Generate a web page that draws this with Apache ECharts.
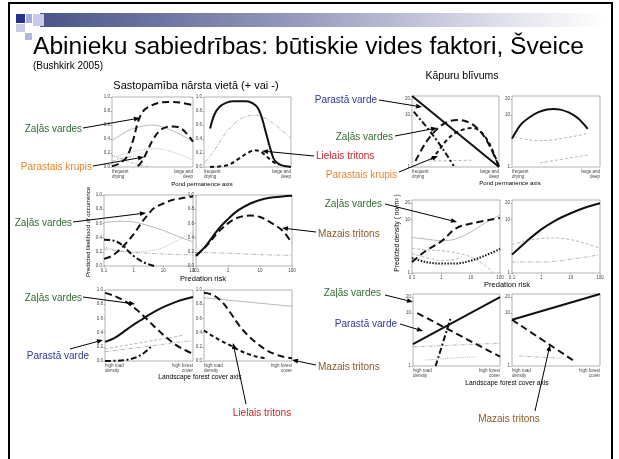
<!DOCTYPE html>
<html><head><meta charset="utf-8">
<script src="https://cdn.jsdelivr.net/npm/echarts@6/dist/echarts.min.js"></script>
<style>html,body{margin:0;padding:0;background:#fff}#c{width:619px;height:459px}</style>
</head><body><div id="c"></div>
<script>
const FONT = '"Liberation Sans", Arial, sans-serif';

// ---------- tick labels ----------
const pondLabels = ['frequent\ndrying', 'large and\ndeep'];
const roadLabels = ['high road\ndensity', 'high forest\ncover'];
const riskTicks = [0.1, 1, 10, 100];
const likeTicks = [0, 0.2, 0.4, 0.6, 0.8, 1.0];
const densTicks = [1, 10, 20];

// ---------- left column: predicted likelihood of occurrence ----------
// row 1, pond permanence
const l1aZalas = [[0,0.01],[0.09,0.05],[0.18,0.14],[0.26,0.38],[0.32,0.64],[0.38,0.79],[0.47,0.87],[0.59,0.92],[0.72,0.93],[0.84,0.92],[0.98,0.89]];
const l1aKrupis = [[0.32,0.01],[0.38,0.1],[0.44,0.24],[0.51,0.4],[0.59,0.52],[0.67,0.57],[0.75,0.58],[0.84,0.56],[0.92,0.48],[1,0.36]];
const l1aThinSolid = [[0,0.38],[0.1,0.45],[0.2,0.52],[0.3,0.56],[0.4,0.59],[0.5,0.6],[0.6,0.58],[0.7,0.54],[0.8,0.49],[0.9,0.43],[1,0.36]];
const l1aThinDot = [[0,0.14],[0.2,0.2],[0.4,0.25],[0.55,0.26],[0.7,0.23],[0.85,0.17],[1,0.1]];
const l1aThinDash = [[0,0.17],[0.15,0.1],[0.3,0.04],[0.45,0.0]];
const l1aThinDashDot = [[0,0.08],[0.15,0.13],[0.3,0.16]];

const l1bSolid = [[0.07,0.55],[0.12,0.75],[0.18,0.86],[0.26,0.92],[0.34,0.94],[0.49,0.94],[0.56,0.91],[0.61,0.86],[0.65,0.76],[0.68,0.64],[0.71,0.5],[0.74,0.36],[0.77,0.23],[0.8,0.12],[0.84,0.06],[0.88,0.03],[0.94,0.01],[1,0.0]];
const l1bThinDashDot = [[0.01,0.07],[0.1,0.2],[0.2,0.4],[0.3,0.56],[0.4,0.67],[0.5,0.73],[0.6,0.74],[0.7,0.7],[0.8,0.62],[0.9,0.52],[1,0.41]];
const l1bLielais = [[0.07,0.0],[0.2,0.01],[0.3,0.04],[0.4,0.12],[0.5,0.2],[0.58,0.24],[0.65,0.22],[0.72,0.15],[0.8,0.07],[0.86,0.03]];

// row 2, predation risk
const l2aZalas = [[0.1,0.1],[0.2,0.15],[0.5,0.3],[1,0.45],[2,0.63],[3,0.72],[5,0.82],[10,0.88],[20,0.93],[50,0.96],[100,0.98]];
const l2aThinSolid = [[0.1,0.61],[0.3,0.63],[1,0.62],[3,0.57],[10,0.5],[30,0.42],[100,0.34]];
const l2aThinDot = [[0.1,0.27],[0.3,0.22],[1,0.2],[3,0.21],[10,0.26],[30,0.36],[100,0.48]];
const l2aThinDash = [[0.1,0.24],[0.3,0.21],[1,0.19],[3,0.18],[10,0.17],[30,0.16],[100,0.16]];
const l2aDashDot = [[0.1,0.37],[0.2,0.36],[0.4,0.3],[0.7,0.2],[1,0.14],[2,0.06],[4,0.01],[5,0.0]];

const l2bSolid = [[0.1,0.14],[0.2,0.28],[0.5,0.52],[1,0.66],[2,0.78],[5,0.88],[10,0.93],[20,0.96],[50,0.98],[100,0.99]];
const l2bMazais = [[0.1,0.15],[0.2,0.27],[0.5,0.48],[1,0.6],[2,0.68],[5,0.71],[10,0.69],[20,0.62],[50,0.5],[100,0.32]];
const l2bThinDashDot = [[0.1,0.19],[1,0.18],[10,0.16],[100,0.15]];

// row 3, landscape forest cover
const l3aParasta = [[0,0.27],[0.1,0.32],[0.2,0.4],[0.3,0.49],[0.4,0.57],[0.5,0.65],[0.6,0.72],[0.7,0.78],[0.8,0.83],[0.9,0.87],[1,0.9]];
const l3aZalas = [[0,0.96],[0.1,0.92],[0.2,0.86],[0.3,0.78],[0.4,0.68],[0.5,0.56],[0.6,0.44],[0.7,0.33],[0.8,0.23],[0.9,0.16],[1,0.1]];
const l3aDashDot = [[0,0.0],[0.2,0.01],[0.35,0.05],[0.45,0.12],[0.52,0.2]];
const l3aThinDash = [[0,0.17],[0.88,0.36]];
const l3aThinDashDot = [[0,0.13],[1,0.29]];

const l3bThinSolid = [[0,0.89],[1,0.77]];
const l3bMazais = [[0,0.96],[0.1,0.93],[0.2,0.84],[0.3,0.68],[0.4,0.5],[0.5,0.36],[0.6,0.25],[0.7,0.16],[0.8,0.1],[0.9,0.06],[1,0.04]];
const l3bLielais = [[0,0.43],[0.1,0.35],[0.2,0.28],[0.3,0.22],[0.4,0.15],[0.5,0.1],[0.6,0.06],[0.7,0.04]];

// ---------- right column: predicted density (no/m2) ----------
const r1aParasta = [[0,23],[1,1]];
const r1aZalas = [[0.04,1.3],[0.15,2.8],[0.25,4.6],[0.35,6.5],[0.45,7.7],[0.52,8],[0.6,7.7],[0.7,6.5],[0.8,4.5],[0.9,2.4],[1,1]];
const r1aKrupis = [[0.22,1.4],[0.3,2.0],[0.4,3.3],[0.5,4.5],[0.6,5.3],[0.68,5.6],[0.75,5.3],[0.82,4.2],[0.9,2.6],[1,1]];
const r1aDashDot = [[0.02,11.5],[0.1,8],[0.2,5],[0.3,3],[0.4,1.7],[0.48,1.05]];
const r1aThinDash = [[0.19,1.3],[0.7,1.35]];

const r1bSolid = [[0,3.5],[0.1,6.5],[0.2,9],[0.3,11.3],[0.4,12.7],[0.47,13],[0.55,12.6],[0.65,11],[0.75,8.6],[0.86,5.4]];
const r1bThinDash = [[0.03,3.8],[0.15,3.4],[0.3,3.2],[0.45,3.3],[0.6,3.6],[0.75,4.0],[0.86,4.4]];
const r1bThinDash2 = [[0.32,1.2],[0.86,1.7]];

const r2aZalas = [[0.1,1.6],[0.3,2.6],[1,3.9],[3.3,6.9],[12,8.5],[100,10.6]];
const r2aThinSolid = [[0.1,4.6],[0.3,4.3],[1,4.0],[3,4.3],[10,5.8],[30,8.5],[100,12]];
const r2aThinDash = [[0.1,2.9],[0.3,2.7],[1,2.6],[3,2.4],[10,2.0],[30,1.4],[60,1.0]];
const r2aMazais = [[0.1,1.9],[0.3,1.6],[1,1.5],[3,1.5],[10,1.7],[30,2.1],[100,2.8]];
const r2aThinDash2 = [[0.1,2.3],[0.5,1.8],[1,1.7],[3,1.8],[5,2.0]];

const r2bSolid = [[0.1,2.2],[0.3,3.8],[1,6.5],[3,9.5],[10,13],[30,16.5],[100,20]];
const r2bThinDash = [[0.1,3.4],[0.3,4.0],[1,4.4],[3,4.5],[10,4.2],[30,3.6],[100,2.9]];
const r2bThinDashDot = [[0.1,1.6],[1,1.6],[10,1.8],[100,2.2]];

const r3aParasta = [[0,2.6],[1,20]];
const r3aZalas = [[0.05,10],[1,1.5]];
const r3aDashDot = [[0.26,1.0],[0.43,7.8]];
const r3aThinDash = [[0,2.3],[1,2.7]];
const r3aThinDot = [[0.14,1.3],[0.72,1.5]];

const r3bSolid = [[0,7.5],[1,23]];
const r3bMazais = [[0,7.5],[0.72,1.2]];
const r3bThinDashDot = [[0.08,1.55],[0.55,1.4]];

// ---------- layout ----------
const grids = [
  {left:112, top:97,  width:81, height:70},  // 0 L1a
  {left:204, top:97,  width:87, height:70},  // 1 L1b
  {left:104, top:195, width:89, height:71},  // 2 L2a
  {left:196, top:195, width:96, height:71},  // 3 L2b
  {left:105, top:290, width:88, height:71},  // 4 L3a
  {left:204, top:290, width:88, height:71},  // 5 L3b
  {left:412, top:96,  width:87, height:71},  // 6 R1a
  {left:512, top:96,  width:88, height:71},  // 7 R1b
  {left:412, top:200, width:88, height:73},  // 8 R2a
  {left:512, top:200, width:88, height:73},  // 9 R2b
  {left:413, top:294, width:87, height:72},  // 10 R3a
  {left:512, top:294, width:88, height:72}   // 11 R3b
].map(g => Object.assign(g, {show:true, borderColor:'#808080', borderWidth:0.6, backgroundColor:'rgba(0,0,0,0)'}));

const tickStyle = {show:true, length:1.5, lineStyle:{color:'#666', width:0.5}};
const lblBase = {fontSize:4.5, color:'#444', fontFamily:FONT};

function xCat(i, labels) {
  return {gridIndex:i, type:'value', min:0, max:1,
    axisLine:{show:false}, splitLine:{show:false}, axisTick:{show:false},
    axisLabel:Object.assign({}, lblBase, {customValues:[0,1], lineHeight:5, margin:2,
      alignMinLabel:'left', alignMaxLabel:'right',
      formatter: v => v < 0.5 ? labels[0] : labels[1]})};
}
function xRisk(i) {
  return {gridIndex:i, type:'log', logBase:10, min:0.1, max:100,
    axisLine:{show:false}, splitLine:{show:false}, axisTick:tickStyle,
    axisLabel:Object.assign({}, lblBase, {margin:2, customValues:riskTicks,
      formatter: v => v < 0.5 ? '0.1' : String(Math.round(v))})};
}
function yLike(i) {
  return {gridIndex:i, type:'value', min:0, max:1, interval:0.2,
    axisLine:{show:false}, splitLine:{show:false}, axisTick:tickStyle,
    axisLabel:Object.assign({}, lblBase, {margin:2, formatter: v => v.toFixed(1)})};
}
function yDens(i) {
  return {gridIndex:i, type:'log', logBase:10, min:1, max:23,
    axisLine:{show:false}, splitLine:{show:false},
    axisTick:Object.assign({customValues:densTicks}, tickStyle),
    axisLabel:Object.assign({}, lblBase, {margin:2, customValues:densTicks, formatter: v => String(Math.round(v))})};
}

const xAxes = [xCat(0,pondLabels), xCat(1,pondLabels), xRisk(2), xRisk(3), xCat(4,roadLabels), xCat(5,roadLabels),
               xCat(6,pondLabels), xCat(7,pondLabels), xRisk(8), xRisk(9), xCat(10,roadLabels), xCat(11,roadLabels)];
const yAxes = [0,1,2,3,4,5].map(yLike).concat([6,7,8,9,10,11].map(yDens));

// ---------- line styles ----------
const ST = {
  long:    {c:'#111', w:2,   t:[7,4]},
  short:   {c:'#111', w:2,   t:[4,3]},
  solid:   {c:'#111', w:2,   t:'solid'},
  dashdot: {c:'#111', w:2,   t:[6,2.5,2,2.5]},
  dot:     {c:'#111', w:2,   t:[1.5,1.5]},
  tSolid:  {c:'#9a9a9a', w:0.7, t:'solid'},
  tDash:   {c:'#9a9a9a', w:0.7, t:[3,2]},
  tDot:    {c:'#9a9a9a', w:0.7, t:[1,1.2]},
  tDashDot:{c:'#9a9a9a', w:0.7, t:[4,1.5,1,1.5]}
};
function S(g, data, st) {
  const s = ST[st];
  return {type:'line', xAxisIndex:g, yAxisIndex:g, data, smooth:0.35, symbol:'none', silent:true,
    lineStyle:{color:s.c, width:s.w, type:s.t, cap:'butt'}, z: s.w > 1 ? 3 : 2};
}

const series = [
  S(0,l1aThinSolid,'tSolid'), S(0,l1aThinDot,'tDot'), S(0,l1aThinDash,'tDash'), S(0,l1aThinDashDot,'tDashDot'),
  S(0,l1aZalas,'long'), S(0,l1aKrupis,'long'),
  S(1,l1bThinDashDot,'tDashDot'), S(1,l1bSolid,'solid'), S(1,l1bLielais,'short'),
  S(2,l2aThinSolid,'tSolid'), S(2,l2aThinDot,'tDot'), S(2,l2aThinDash,'tDashDot'), S(2,l2aZalas,'long'), S(2,l2aDashDot,'dashdot'),
  S(3,l2bThinDashDot,'tDashDot'), S(3,l2bSolid,'solid'), S(3,l2bMazais,'long'),
  S(4,l3aThinDash,'tDash'), S(4,l3aThinDashDot,'tDashDot'), S(4,l3aParasta,'solid'), S(4,l3aZalas,'long'), S(4,l3aDashDot,'dashdot'),
  S(5,l3bThinSolid,'tSolid'), S(5,l3bMazais,'long'), S(5,l3bLielais,'short'),
  S(6,r1aThinDash,'tDash'), S(6,r1aParasta,'solid'), S(6,r1aZalas,'long'), S(6,r1aKrupis,'short'), S(6,r1aDashDot,'dashdot'),
  S(7,r1bThinDash,'tDash'), S(7,r1bThinDash2,'tDash'), S(7,r1bSolid,'solid'),
  S(8,r2aThinSolid,'tSolid'), S(8,r2aThinDash,'tDash'), S(8,r2aThinDash2,'tDash'), S(8,r2aZalas,'long'), S(8,r2aMazais,'dot'),
  S(9,r2bThinDash,'tDash'), S(9,r2bThinDashDot,'tDashDot'), S(9,r2bSolid,'solid'),
  S(10,r3aThinDash,'tDashDot'), S(10,r3aThinDot,'tDot'), S(10,r3aParasta,'solid'), S(10,r3aZalas,'long'), S(10,r3aDashDot,'dashdot'),
  S(11,r3bThinDashDot,'tDashDot'), S(11,r3bSolid,'solid'), S(11,r3bMazais,'long')
];

// ---------- slide decorations & annotations ----------
const GREEN = '#2f6b33', ORANGE = '#e8852c', BLUE = '#2f379a', RED = '#c4262e', BROWN = '#8a5a2a';
function T(text, x, y, size, color, align, extra) {
  return Object.assign({type:'text', x, y, z:100, silent:true,
    style:{text, fill:color, font:size + 'px ' + FONT, align:align || 'left', verticalAlign:'middle'}}, extra || {});
}
function arrow(x1, y1, x2, y2) {
  const a = Math.atan2(y2 - y1, x2 - x1), L = 6, W = 2.4;
  const bx = x2 - L * Math.cos(a), by = y2 - L * Math.sin(a);
  return [
    {type:'line', z:100, silent:true, shape:{x1, y1, x2:bx, y2:by}, style:{stroke:'#000', lineWidth:1}},
    {type:'polygon', z:100, silent:true, shape:{points:[[x2,y2],[bx + W*Math.sin(a), by - W*Math.cos(a)],[bx - W*Math.sin(a), by + W*Math.cos(a)]]}, style:{fill:'#000'}}
  ];
}

const graphics = [
  {type:'rect', shape:{x:9, y:3, width:603, height:470}, style:{fill:'none', stroke:'#000', lineWidth:2}, z:0},
  {type:'rect', shape:{x:40, y:13, width:565, height:14}, z:1,
    style:{fill:new echarts.graphic.LinearGradient(0,0,1,0,[{offset:0,color:'#4b5488'},{offset:0.45,color:'#9599bd'},{offset:0.85,color:'#e6e6ef'},{offset:1,color:'#ffffff'}])}},
  {type:'rect', shape:{x:16, y:14, width:9, height:9}, style:{fill:'#26338a'}, z:2},
  {type:'rect', shape:{x:26, y:14, width:6, height:9}, style:{fill:'#a7abd9'}, z:2},
  {type:'rect', shape:{x:33, y:14, width:11, height:12}, style:{fill:'#c6c9ea'}, z:2},
  {type:'rect', shape:{x:16, y:24, width:9, height:8}, style:{fill:'#c6c9ea'}, z:2},
  {type:'rect', shape:{x:25, y:33, width:7, height:7}, style:{fill:'#b4b8e0'}, z:2},

  T('Abinieku sabiedrības: būtiskie vides faktori, Šveice', 33, 47, 24.6, '#000'),
  T('(Bushkirk 2005)', 33, 66, 10, '#000'),
  T('Sastopamība nārsta vietā (+ vai -)', 196, 86, 11, '#000', 'center'),
  T('Kāpuru blīvums', 462, 76, 10.5, '#000', 'center'),

  T('Pond permanence axis', 202, 184, 6, '#000', 'center'),
  T('Predation risk', 203, 279, 7.5, '#000', 'center'),
  T('Landscape forest cover axis', 200, 377, 6.7, '#000', 'center'),
  T('Pond permanence axis', 510, 183, 6, '#000', 'center'),
  T('Predation risk', 507, 285, 7.5, '#000', 'center'),
  T('Landscape forest cover axis', 507, 383, 6.7, '#000', 'center'),
  T('Predicted likelihood of occurrence', 88, 232, 6, '#000', 'center', {rotation:Math.PI/2}),
  T('Predicted density ( no/m² )', 397, 233, 6.6, '#000', 'center', {rotation:Math.PI/2}),

  T('Zaļās vardes', 82, 129, 10, GREEN, 'right'),
  T('Parastais krupis', 92, 167, 10, ORANGE, 'right'),
  T('Lielais tritons', 316, 156, 10, RED),
  T('Zaļās vardes', 72, 223, 10, GREEN, 'right'),
  T('Mazais tritons', 318, 234, 10, BROWN),
  T('Zaļās vardes', 82, 298, 10, GREEN, 'right'),
  T('Parastā varde', 89, 356, 10, BLUE, 'right'),
  T('Lielais tritons', 262, 413, 10, RED, 'center'),
  T('Mazais tritons', 318, 367, 10, BROWN),
  T('Parastā varde', 377, 100, 10, BLUE, 'right'),
  T('Zaļās vardes', 393, 137, 10, GREEN, 'right'),
  T('Parastais krupis', 397, 175, 10, ORANGE, 'right'),
  T('Zaļās vardes', 382, 204, 10, GREEN, 'right'),
  T('Zaļās vardes', 381, 293, 10, GREEN, 'right'),
  T('Parastā varde', 397, 324, 10, BLUE, 'right'),
  T('Mazais tritons', 509, 419, 10, BROWN, 'center')
].concat(
  arrow(83,128,140,118), arrow(93,166,144,157), arrow(314,156,262,151),
  arrow(73,222,146,213), arrow(316,232,282,228), arrow(83,297,135,304),
  arrow(70,349,103,340), arrow(246,404,233,343), arrow(316,365,292,360),
  arrow(379,100,422,107), arrow(395,136,437,128), arrow(399,172,438,156),
  arrow(385,204,457,222), arrow(385,295,413,302), arrow(400,324,423,331),
  arrow(535,411,550,345)
);

const chart = echarts.init(document.getElementById('c'), null, {renderer:'canvas'});
chart.setOption({
  animation:false,
  backgroundColor:'#ffffff',
  textStyle:{fontFamily:FONT},
  grid:grids, xAxis:xAxes, yAxis:yAxes, series,
  graphic:{elements:graphics}
});
</script></body></html>
